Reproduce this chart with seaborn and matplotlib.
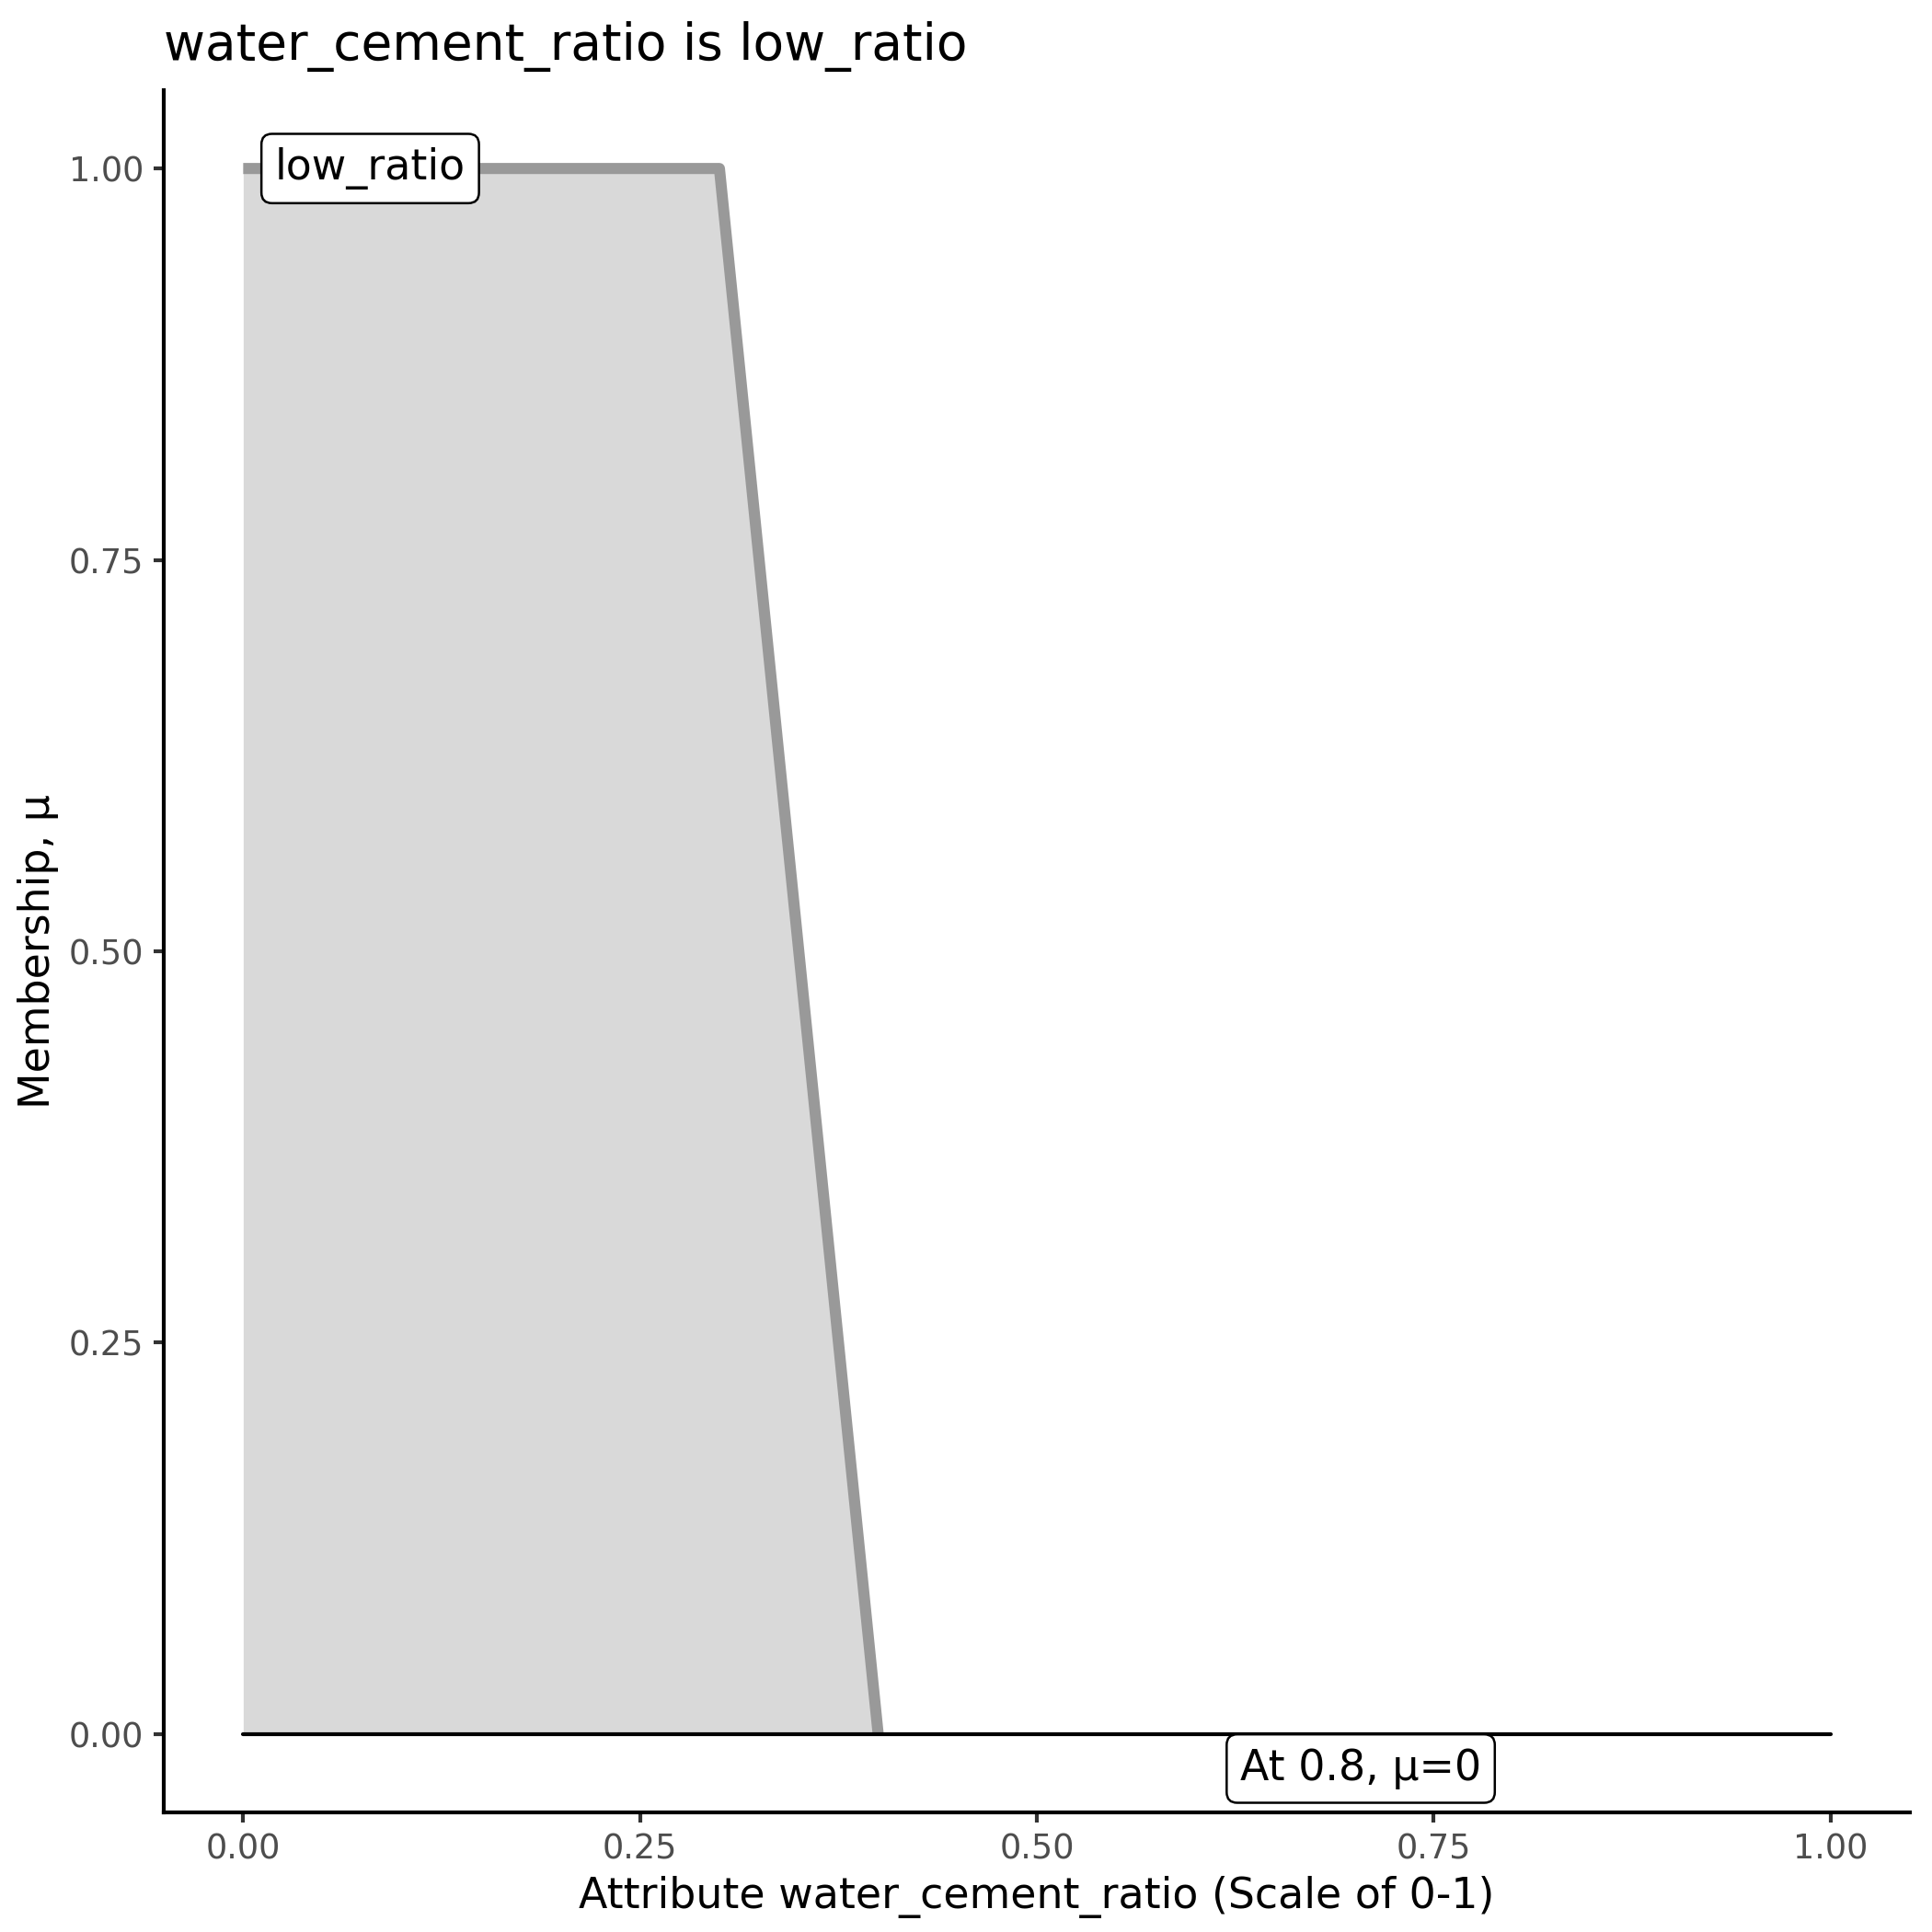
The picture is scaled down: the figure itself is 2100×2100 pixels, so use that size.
import numpy as np
import pandas as pd
import matplotlib
matplotlib.use("Agg")
import matplotlib.pyplot as plt
import seaborn as sns

# Membership function points (trapezoid, falling to 0 at 0.4)
x_points = [0.0, 0.3, 0.4]
membership = [1.0, 1.0, 0.0]

# baseline segment at mu = 0
base_x = [0.0, 1.0]
base_y = [0.0, 0.0]

# annotations
label_text = "low_ratio"
label_x, label_y = 0.08, 1.0
note_text = "At 0.8, \u03bc=0"
note_x, note_y = 0.704, -0.022

ticks = [0.0, 0.25, 0.5, 0.75, 1.0]
tick_labels = ["0.00", "0.25", "0.50", "0.75", "1.00"]

sns.set_theme(style="ticks")
plt.rcParams['font.family'] = ['DejaVu Sans']

df = pd.DataFrame({'x': x_points, 'mu': membership})

fig = plt.figure(figsize=(7, 7), dpi=300)
ax = fig.add_axes([0.0848, 0.0619, 0.9886 - 0.0848, 0.9533 - 0.0619])

ax.fill_between(df['x'], df['mu'], 0, color='#d9d9d9', linewidth=0, zorder=1)
sns.lineplot(data=df, x='x', y='mu', ax=ax, color='#999999', linewidth=2.9,
             sort=False, solid_joinstyle='round', solid_capstyle='butt', zorder=2)
sns.lineplot(x=base_x, y=base_y, ax=ax, color='black', linewidth=1.0, zorder=3)

box = dict(boxstyle='round,pad=0.32,rounding_size=0.25', facecolor='white',
           edgecolor='black', linewidth=0.6)
ax.text(label_x, label_y, label_text, ha='center', va='center', fontsize=11,
        color='black', bbox=box, zorder=5)
ax.text(note_x, note_y, note_text, ha='center', va='center', fontsize=11,
        color='black', bbox=box, zorder=5)

ax.set_xlim(-0.05, 1.05)
ax.set_ylim(-0.05, 1.05)
ax.set_xticks(ticks)
ax.set_xticklabels(tick_labels)
ax.set_yticks(ticks)
ax.set_yticklabels(tick_labels)
ax.tick_params(axis='both', labelsize=8.8, labelcolor='#4d4d4d', color='#333333',
               length=2.75, width=1.0, pad=2.5)
for s in ['left', 'bottom']:
    ax.spines[s].set_linewidth(1.0)
    ax.spines[s].set_color('black')
sns.despine(ax=ax)

ax.set_xlabel('Attribute water_cement_ratio (Scale of 0-1)', fontsize=11,
              labelpad=2.5, color='black')
ax.set_ylabel('Membership, \u03bc', fontsize=11, labelpad=2.5, color='black')
ax.set_title('water_cement_ratio is low_ratio', loc='left', fontsize=13.2,
             pad=8, color='black')

fig.savefig('out.png', dpi=300)
